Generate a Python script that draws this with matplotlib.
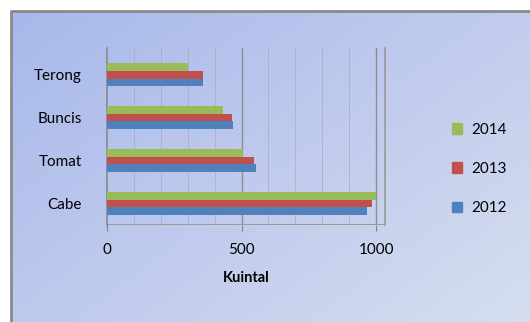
import matplotlib.pyplot as plt
import matplotlib.patches as mpatches
import numpy as np

plt.rcParams['font.family'] = ['Lato', 'DejaVu Sans']

# Production per commodity (kuintal)
categories = ['Cabe', 'Tomat', 'Buncis', 'Terong']
years = ['2012', '2013', '2014']
val_2012 = [965, 555, 470, 355]
val_2013 = [985, 545, 465, 355]
val_2014 = [1000, 505, 430, 300]
colors = ['#4f81bd', '#c0504d', '#9bbb59']

W, H = 530, 322
fig = plt.figure(figsize=(W / 100, H / 100), dpi=100)

# background panel with soft blue gradient
bg = fig.add_axes([0, 0, 1, 1])
bg.set_xlim(0, W)
bg.set_ylim(H, 0)
bg.axis('off')
yy, xx = np.mgrid[0:1:200j, 0:1:300j]
t = np.clip(0.55 * xx + 0.45 * yy, 0, 1)
c0 = np.array([0.66, 0.72, 0.92])
c1 = np.array([0.84, 0.87, 0.94])
grad = c0 + (c1 - c0) * t[..., None]
bg.imshow(grad, extent=[11, W, H, 11], aspect='auto', zorder=0)
bg.plot([11, 11, W], [H, 11, 11], color='#8a8a8a', lw=2, zorder=1)

ax = fig.add_axes([107 / W, 1 - 225 / H, 278 / W, 177 / H])
ax.set_facecolor('none')

y = np.arange(len(categories))
h = 0.18
for i, (vals, col) in enumerate(zip([val_2012, val_2013, val_2014], colors)):
    ax.barh(y + (i - 1) * h, vals, height=h, color=col, edgecolor='none',
            label=years[i], zorder=3)

ax.set_xlim(0, 1033)
ax.set_ylim(-0.5, 3.62)

for xv in range(100, 1001, 100):
    major = xv % 500 == 0
    ax.axvline(xv, color='#7f7f7f' if major else '#a0a0a0',
               lw=1.0 if major else 0.7, alpha=0.8 if major else 0.5, zorder=1)
ax.axhline(-0.5, color='#9a9a9a', lw=1.5, zorder=2)

ax.spines['top'].set_visible(False)
ax.spines['bottom'].set_visible(False)
ax.spines['left'].set_color('#8a8a8a')
ax.spines['left'].set_linewidth(1.2)
ax.spines['right'].set_color('#9a9a9a')
ax.spines['right'].set_linewidth(1.2)

ax.set_xticks([0, 500, 1000])
ax.set_xticklabels(['0', '500', '1000'], fontsize=11)
ax.tick_params(axis='x', length=4, color='#808080', pad=9)
ax.set_yticks(y)
ax.set_yticklabels(categories, fontsize=11)
ax.tick_params(axis='y', length=0, pad=18)
ax.set_xlabel('Kuintal', fontsize=10.5, fontweight='bold', labelpad=10)

handles = [mpatches.Patch(color=colors[i], label=years[i]) for i in [2, 1, 0]]
fig.legend(handles=handles, loc='center left', bbox_to_anchor=(438 / W, 1 - 169 / H),
           frameon=False, fontsize=11, handlelength=0.7, handleheight=0.7,
           labelspacing=1.65, handletextpad=0.55)

fig.savefig('out.png', dpi=100)
